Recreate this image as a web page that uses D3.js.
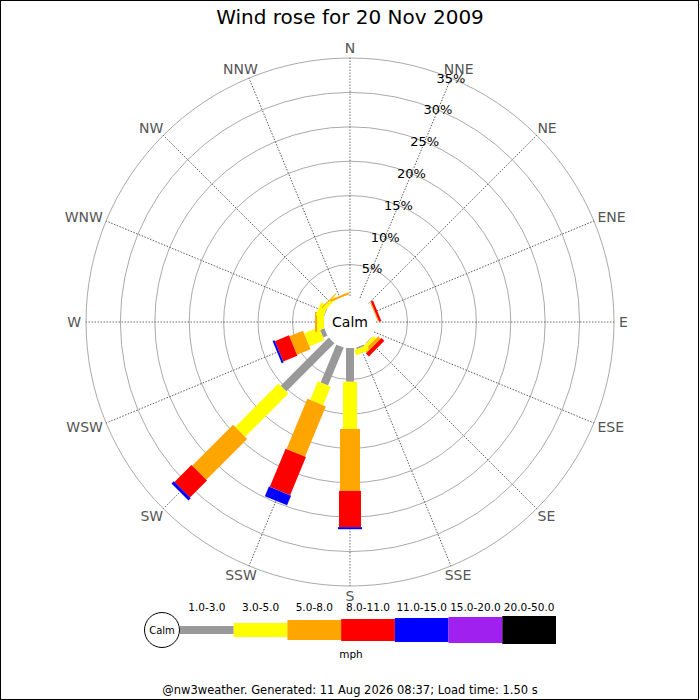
<!DOCTYPE html>
<html>
<head>
<meta charset="utf-8">
<script src="https://cdn.jsdelivr.net/npm/d3@7"></script>
<style>
  body { margin: 0; background: #fff; }
  svg { display: block; font-family: "DejaVu Sans", sans-serif; }
</style>
</head>
<body>
<div id="chart"></div>
<script>
const directions = ['N', 'NNE', 'NE', 'ENE', 'E', 'ESE', 'SE', 'SSE',
  'S', 'SSW', 'SW', 'WSW', 'W', 'WNW', 'NW', 'NNW'];
const bands = ['1.0-3.0', '3.0-5.0', '5.0-8.0', '8.0-11.0', '11.0-15.0', '15.0-20.0', '20.0-50.0'];
const calmPct = 0.42;
const band1to3 = [0, 0, 0, 0, 0, 0, 0.1, 0.25, 4.9, 5.98, 9.9, 0.7, 0, 0.1, 0, 0];
const band3to5 = [0, 0, 0, 0, 0, 0, 0.5, 0.8, 6.87, 2.93, 8.9, 2.33, 1.0, 1.1, 0.5, 0];
const band5to8 = [0, 0, 0, 0.15, 0, 0, 0.5, 0, 9.0, 7.9, 8.4, 2.13, 0.3, 0, 0.15, 0.3];
const band8to11 = [0, 0, 0, 0.35, 0, 0, 0.6, 0, 5.26, 6.0, 3.5, 2.22, 0, 0, 0, 0];
const band11to15 = [0, 0, 0, 0, 0, 0, 0, 0, 0.3, 1.52, 0.45, 0.3, 0, 0, 0, 0];
const band15to20 = [0, 0, 0, 0, 0, 0, 0, 0, 0, 0, 0, 0, 0, 0, 0, 0];
const band20to50 = [0, 0, 0, 0, 0, 0, 0, 0, 0, 0, 0, 0, 0, 0, 0, 0];
const ringTicks = [5, 10, 15, 20, 25, 30, 35];

const series = [band1to3, band3to5, band5to8, band8to11, band11to15, band15to20, band20to50];
const colors = ['#999999', '#ffff00', '#ffa500', '#ff0000', '#0000ff', '#a020f0', '#000000'];
const barWidths = [8, 14, 20, 22, 24, 26, 28];

const W = 700, H = 700;
const cx = 350, cy = 322;
const rad = Math.PI / 180;

const svg = d3.select('#chart').append('svg')
  .attr('width', W)
  .attr('height', H);

svg.append('rect')
  .attr('x', 0.5).attr('y', 0.5)
  .attr('width', W - 2).attr('height', H - 1)
  .attr('fill', '#fff')
  .attr('stroke', '#000');

svg.append('text')
  .attr('x', cx).attr('y', 24)
  .attr('text-anchor', 'middle')
  .style('font-size', '20px')
  .text('Wind rose for 20 Nov 2009');

const r = d3.scaleLinear().domain([0, 35]).range([23.1, 264]);
const angle = d3.scalePoint().domain(directions).range([0, 337.5]);

const plot = svg.append('g')
  .attr('transform', `translate(${cx}, ${cy})`);

// rings
plot.selectAll('circle.ring')
  .data(ringTicks)
  .enter()
  .append('circle')
  .attr('class', 'ring')
  .attr('r', d => r(d))
  .attr('fill', 'none')
  .attr('stroke', '#aaaaaa');

// spokes
plot.selectAll('line.spoke')
  .data(directions)
  .enter()
  .append('line')
  .attr('class', 'spoke')
  .attr('transform', d => `rotate(${angle(d)})`)
  .attr('y1', -r(calmPct))
  .attr('y2', -r(35))
  .attr('stroke', '#444')
  .attr('stroke-width', 0.8)
  .attr('stroke-dasharray', '1.5,1.5');

// direction labels: text box just touching a circle outside the plot
const labelR = 269;
const dirLabels = plot.selectAll('text.dir')
  .data(directions)
  .enter()
  .append('text')
  .attr('class', 'dir')
  .attr('text-anchor', 'middle')
  .attr('dominant-baseline', 'central')
  .attr('fill', '#555')
  .style('font-size', '14px')
  .text(d => d);

dirLabels.each(function (d) {
  const a = angle(d) * rad;
  const w = this.getComputedTextLength();
  const sx = Math.sin(a), sy = -Math.cos(a);
  d3.select(this)
    .attr('x', labelR * sx + sx * w / 2)
    .attr('y', labelR * sy + sy * 5);
});

// stacked bars
directions.forEach((dir, i) => {
  const g = plot.append('g').attr('transform', `rotate(${angle(dir)})`);
  let start = calmPct;
  series.forEach((vals, b) => {
    const v = vals[i];
    if (v > 0) {
      const end = start + v;
      g.append('rect')
        .attr('x', -barWidths[b] / 2)
        .attr('width', barWidths[b])
        .attr('y', -r(end))
        .attr('height', r(end) - r(start))
        .attr('fill', colors[b]);
      start = end;
    }
  });
});

// calm circle
plot.append('circle')
  .attr('r', r(calmPct))
  .attr('fill', '#fff');
plot.append('text')
  .attr('dominant-baseline', 'central')
  .attr('text-anchor', 'middle')
  .style('font-size', '14px')
  .text('Calm');

// percent labels along NNE
const lblAng = angle('NNE') * rad;
plot.selectAll('text.pct')
  .data(ringTicks)
  .enter()
  .append('text')
  .attr('class', 'pct')
  .attr('x', d => r(d) * Math.sin(lblAng))
  .attr('y', d => -r(d) * Math.cos(lblAng))
  .attr('text-anchor', 'middle')
  .attr('dominant-baseline', 'central')
  .style('font-size', '13px')
  .text(d => `${d}%`);

// legend
const lx = d3.scaleBand().domain(bands).range([180, 556]);
const ly = 630;
const legend = svg.append('g');

legend.append('circle')
  .attr('cx', 162).attr('cy', ly).attr('r', 17.5)
  .attr('fill', '#fff').attr('stroke', '#000');
legend.append('text')
  .attr('x', 162).attr('y', ly)
  .attr('text-anchor', 'middle')
  .attr('dominant-baseline', 'central')
  .style('font-size', '10px')
  .text('Calm');

legend.selectAll('rect')
  .data(bands)
  .enter()
  .append('rect')
  .attr('x', d => lx(d))
  .attr('width', lx.bandwidth())
  .attr('y', (d, i) => ly - barWidths[i] / 2)
  .attr('height', (d, i) => barWidths[i])
  .attr('fill', (d, i) => colors[i]);

legend.selectAll('text.band')
  .data(bands)
  .enter()
  .append('text')
  .attr('class', 'band')
  .attr('x', d => lx(d) + lx.bandwidth() / 2)
  .attr('y', 611)
  .attr('text-anchor', 'middle')
  .style('font-size', '10.5px')
  .text(d => d);

legend.append('text')
  .attr('x', 351).attr('y', 658)
  .attr('text-anchor', 'middle')
  .style('font-size', '10.5px')
  .text('mph');

svg.append('text')
  .attr('x', 350).attr('y', 694)
  .attr('text-anchor', 'middle')
  .style('font-size', '11.5px')
  .text('@nw3weather. Generated: 11 Aug 2026 08:37; Load time: 1.50 s');
</script>
</body>
</html>
